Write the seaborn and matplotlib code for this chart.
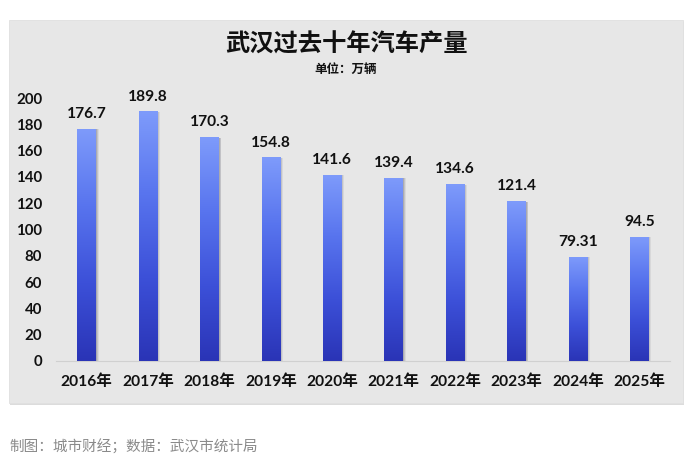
import numpy as np
import pandas as pd
import matplotlib
matplotlib.use("Agg")
import matplotlib.pyplot as plt
import seaborn as sns
from matplotlib.patches import Rectangle
from matplotlib.colors import LinearSegmentedColormap

years = ["2016年", "2017年", "2018年", "2019年", "2020年",
         "2021年", "2022年", "2023年", "2024年", "2025年"]
values = [176.7, 189.8, 170.3, 154.8, 141.6, 139.4, 134.6, 121.4, 79.31, 94.5]
value_labels = ["176.7", "189.8", "170.3", "154.8", "141.6",
                "139.4", "134.6", "121.4", "79.31", "94.5"]
yticks = [0, 20, 40, 60, 80, 100, 120, 140, 160, 180, 200]

title = "武汉过去十年汽车产量"
subtitle = "单位：万辆"
footnote = "制图：城市财经；数据：武汉市统计局"

sns.set_theme(style="white")
FAM = ["Lato", "Noto Sans CJK SC", "DejaVu Sans"]
plt.rcParams["font.family"] = FAM

W, H = 693, 462
fig = plt.figure(figsize=(W / 100, H / 100), dpi=100)
fig.patch.set_facecolor("white")

def fx(px): return px / W
def fy(py): return 1 - py / H

panel_x0, panel_y0, panel_x1, panel_y1 = 9, 20, 683, 403
fig.patches.append(Rectangle((fx(panel_x0) + 0.002, fy(panel_y1) - 0.004),
                             fx(panel_x1 - panel_x0), fy(panel_y0) - fy(panel_y1),
                             transform=fig.transFigure, facecolor="#dcdcdc",
                             edgecolor="none", zorder=-3))
fig.patches.append(Rectangle((fx(panel_x0), fy(panel_y1)),
                             fx(panel_x1 - panel_x0), fy(panel_y0) - fy(panel_y1),
                             transform=fig.transFigure, facecolor="#e7e7e7",
                             edgecolor="#e0e0e0", linewidth=0.6, zorder=-2))

ax_l, ax_r, ax_t, ax_b = 56, 670, 98, 361
ax = fig.add_axes([fx(ax_l), fy(ax_b), fx(ax_r - ax_l), fy(ax_t) - fy(ax_b)])
ax.set_facecolor("none")

df = pd.DataFrame({"year": years, "value": values})
sns.barplot(data=df, x="year", y="value", ax=ax, width=0.3,
            color="#4a62e0", saturation=1, edgecolor="none")

cmap = LinearSegmentedColormap.from_list(
    "bar", ["#2a34b6", "#3c50d8", "#5874ee", "#7e9bfb"])
grad = np.linspace(0, 1, 256).reshape(-1, 1)

for p in list(ax.patches):
    x0, w, h = p.get_x(), p.get_width(), p.get_height()
    for dx, a in [(0.045, 0.10), (0.03, 0.16), (0.015, 0.22)]:
        sh = Rectangle((x0 + dx, 0), w, h - 0.4, facecolor="#555566",
                       alpha=a, edgecolor="none", zorder=1)
        ax.add_patch(sh)
    im = ax.imshow(grad, extent=[x0, x0 + w, 0, h], origin="lower",
                   cmap=cmap, aspect="auto", zorder=3)
    im.set_clip_path(p)
    p.set_zorder(2)

for i, (v, lab) in enumerate(zip(values, value_labels)):
    ax.text(i, v + 6, lab, ha="center", va="bottom", fontsize=11.2,
            fontweight="bold", color="#111111", family=FAM)

ax.set_xlim(-0.5, 9.5)
ax.set_ylim(0, 200)
ax.set_yticks(yticks)
ax.set_yticklabels([str(t) for t in yticks])
ax.set_xlabel("")
ax.set_ylabel("")
for s in ["top", "right", "left"]:
    ax.spines[s].set_visible(False)
ax.spines["bottom"].set_color("#d0d0d0")
ax.spines["bottom"].set_linewidth(0.8)
ax.tick_params(axis="both", length=0)
ax.tick_params(axis="y", pad=10, labelsize=10.8)
ax.tick_params(axis="x", pad=10, labelsize=11.2)
for t in ax.get_yticklabels() + ax.get_xticklabels():
    t.set_fontweight("bold")
    t.set_color("#111111")
    t.set_family(FAM)
ax.grid(False)

fig.text(fx(346), fy(45), title, ha="center", va="center", fontsize=17.5,
         fontweight="black", color="#111111", family=["Noto Sans CJK SC"])
fig.text(fx(346), fy(69), subtitle, ha="center", va="center", fontsize=9,
         fontweight="bold", color="#111111", family=["Noto Sans CJK SC"])
fig.text(fx(9), fy(447), footnote, ha="left", va="center", fontsize=10.5,
         color="#8a8a8a", family=["Noto Sans CJK SC"])

fig.savefig("out.png", dpi=100)
